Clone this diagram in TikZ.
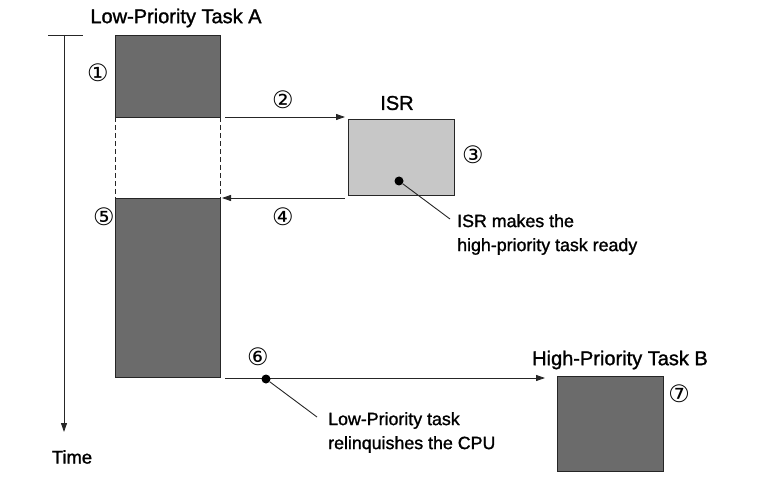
\documentclass[tikz,border=0pt]{standalone}
\usepackage{fontspec}
\setmainfont{Liberation Sans}[FakeBold=1.3]
\newfontfamily\circfont{DejaVu Sans}
\usetikzlibrary{arrows.meta}
\begin{document}
\begin{tikzpicture}[x=1pt,y=-1pt,
  darkblock/.style={draw=black!85, line width=0.8pt, fill=black!58, inner sep=0pt, outer sep=0pt, minimum width=105pt, anchor=north west},
  lightblock/.style={draw=black!85, line width=0.8pt, fill=black!22, inner sep=0pt, outer sep=0pt, minimum width=106pt, anchor=north west},
  lbl/.style={font=\fontsize{17.8}{24}\selectfont, inner sep=0pt},
  head/.style={font=\fontsize{20}{24}\selectfont, inner sep=0pt},
  num/.style={font=\circfont\fontsize{24}{24}\selectfont, inner sep=0pt},
  arr/.style={-{Triangle[length=9pt,width=6pt]}, line width=0.9pt, draw=black!85},
  conn/.style={line width=0.9pt, draw=black!85},
  dot/.style={circle, fill=black, inner sep=0pt, minimum size=9pt}
]
\useasboundingbox (0,0) rectangle (765,478);
% time axis
\coordinate (t0) at (64,35);
\coordinate (t1) at (64,432);
\coordinate (tl) at (48,35);
\coordinate (tr) at (83,35);
\draw[conn] (tl) -- (tr);
\draw[arr] (t0) -- (t1);
\node[lbl, font=\fontsize{18.4}{24}\selectfont] (time) at (72,457) {Time};
% blocks
\node[darkblock, minimum height=82pt] (A1) at (115,35) {};
\node[darkblock, minimum height=179pt] (A2) at (115,198) {};
\node[lightblock, minimum height=76pt] (isr) at (348,119) {};
\node[darkblock, minimum width=106pt, minimum height=95pt] (B) at (557,376) {};
\draw[conn, dashed, dash pattern=on 5pt off 3pt] (A1.south west) -- (A2.north west);
\draw[conn, dashed, dash pattern=on 5pt off 3pt] (A1.south east) -- (A2.north east);
% labels
\node[head] (la) at (176,18) {Low-Priority Task A};
\node[head] (lisr) at (397,103) {ISR};
\node[head] (lb) at (620,360) {High-Priority Task B};
% arrows
\draw[arr] ([xshift=5pt]A1.south east) -- ([xshift=-3pt,yshift=2pt]isr.north west);
\draw[arr] ([xshift=-3pt,yshift=-3pt]isr.south west) -- ([xshift=2pt]A2.north east);
\draw[arr] ([xshift=5pt,yshift=-1pt]A2.south east) -- ([xshift=-12pt,yshift=-2pt]B.north west);
% callouts
\node[dot] (d1) at (399,181) {};
\node[lbl, anchor=north west, align=left] (n1) at (457,214) {ISR makes the\\high-priority task ready};
\draw[conn] (d1) -- ([xshift=-7pt,yshift=-5pt]n1.north west);
\node[dot] (d2) at (266,379) {};
\node[lbl, anchor=north west, align=left] (n2) at (328,412) {Low-Priority task\\relinquishes the CPU};
\draw[conn] (d2) -- ([xshift=-11pt,yshift=-5pt]n2.north west);
% numbers
\node[num] (c1) at (98,73) {①};
\node[num] (c2) at (283,100) {②};
\node[num] (c3) at (473,155) {③};
\node[num] (c4) at (283,217) {④};
\node[num] (c5) at (104,217) {⑤};
\node[num] (c6) at (258,357) {⑥};
\node[num] (c7) at (679,394) {⑦};
\end{tikzpicture}
\end{document}
